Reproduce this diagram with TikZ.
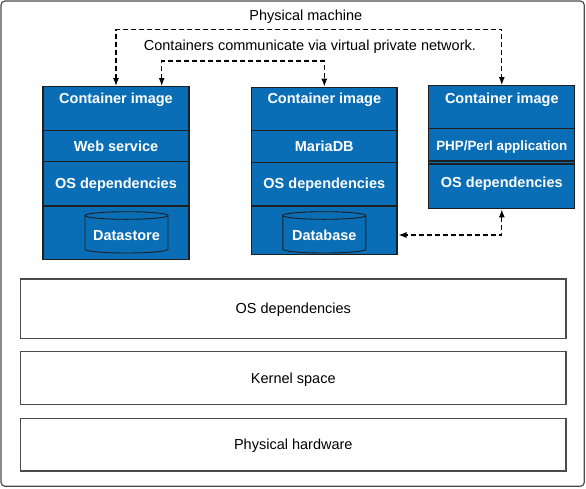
\documentclass[tikz,border=0pt]{standalone}
\usepackage{fontspec}
\setmainfont{Liberation Sans}
\usetikzlibrary{
    arrows.meta,
    calc,
    positioning
}

\definecolor{boxblue}{RGB}{10,110,182}
\definecolor{edgegray}{RGB}{75,75,75}

\tikzset{
    cbox/.style={draw=black!88, fill=boxblue, line width=1.1pt, minimum width=146pt, inner sep=0pt, anchor=north},
    sep/.style={draw=black!88, line width=1.1pt},
    ctext/.style={text=white, inner sep=0pt, text height=10.4pt, text depth=0pt, font=\fontsize{14.5}{17}\selectfont\bfseries},
    layer/.style={draw=edgegray, line width=1.2pt, minimum width=545.3pt, inner sep=0pt, text height=10.4pt, text depth=0pt, font=\fontsize{14.5}{17}\selectfont},
    plain/.style={inner sep=0pt, text height=10.4pt, text depth=0pt, font=\fontsize{14.5}{17}\selectfont},
    net/.style={line width=1.1pt, dash pattern=on 5pt off 3pt, {Latex[length=8pt,width=6pt]}-{Latex[length=8pt,width=6pt]}}
}

\begin{document}
\begin{tikzpicture}[x=1pt,y=-1pt]

\useasboundingbox (0,0) rectangle (586,488);

% Machine frame
\draw[edgegray, line width=1.2pt, rounded corners=4pt] (1,1) rectangle (584.3,486.3);
\node[plain] (pm) at (305.8,15) {Physical machine};
\node[plain] (vpn) at (309.9,45) {Containers communicate via virtual private network.};

% Containers
\node[cbox, minimum height=172.5pt] (c1) at (116,86) {};
\node[cbox, minimum height=167pt, minimum width=145.3pt] (c2) at (324.3,86.5) {};
\node[cbox, minimum height=123.3pt] (c3) at (501.8,85) {};

\foreach \yy in {130.7,161.7,206}
    \draw[sep] (c1.west |- 0,\yy) -- (c1.east |- 0,\yy);
\foreach \yy in {130.7,162.7,206}
    \draw[sep] (c2.west |- 0,\yy) -- (c2.east |- 0,\yy);
\foreach \yy in {128.7,161,164}
    \draw[sep] (c3.west |- 0,\yy) -- (c3.east |- 0,\yy);

% Storage cylinders
\foreach \cx in {126.5,324.3} {
    \fill[boxblue] (\cx-41.5,215.5) rectangle (\cx+41.5,249.2);
    \fill[boxblue] (\cx,249.2) ellipse [x radius=41.5, y radius=3.8];
    \draw[sep, line width=0.9pt] (\cx-41.5,215.5) -- (\cx-41.5,249.2)
        arc [start angle=180, end angle=0, x radius=41.5, y radius=3.8] -- (\cx+41.5,215.5);
    \draw[sep, line width=0.9pt, fill=boxblue] (\cx,215.5) ellipse [x radius=41.5, y radius=3.8];
}

% Container texts
\node[ctext] (img1) at (116,98) {Container image};
\node[ctext] (web) at (116,146.5) {Web service};
\node[ctext] (os1) at (116,183) {OS dependencies};
\node[ctext] (store) at (126.5,235.7) {Datastore};

\node[ctext] (img2) at (324.3,98.3) {Container image};
\node[ctext] (maria) at (324.3,145.9) {MariaDB};
\node[ctext] (os2) at (324.3,183.3) {OS dependencies};
\node[ctext] (dbtxt) at (324.3,235.7) {Database};

\node[ctext] (img3) at (501.8,98) {Container image};
\node[ctext, font=\fontsize{13.4}{16}\selectfont\bfseries] (php) at (501.8,145.7) {PHP/Perl application};
\node[ctext] (os3) at (501.8,182.7) {OS dependencies};

% Network links
\draw[net] (c1.north) |- (c3.north |- 0,29.3) -- (c3.north);
\draw[net] ([xshift=45.7pt]c1.north) |- (c2.north |- 0,61) -- (c2.north);
\draw[net] (c3.south) |- ([xshift=1pt]c2.east |- 0,235);

% Host layers
\node[layer, minimum height=59.3pt] (hostos) at (293.3,308.7) {OS dependencies};
\node[layer, minimum height=52.6pt] (kernel) at (293.3,378) {Kernel space};
\node[layer, minimum height=52.7pt] (hw) at (293.3,444.7) {Physical hardware};

\end{tikzpicture}
\end{document}
